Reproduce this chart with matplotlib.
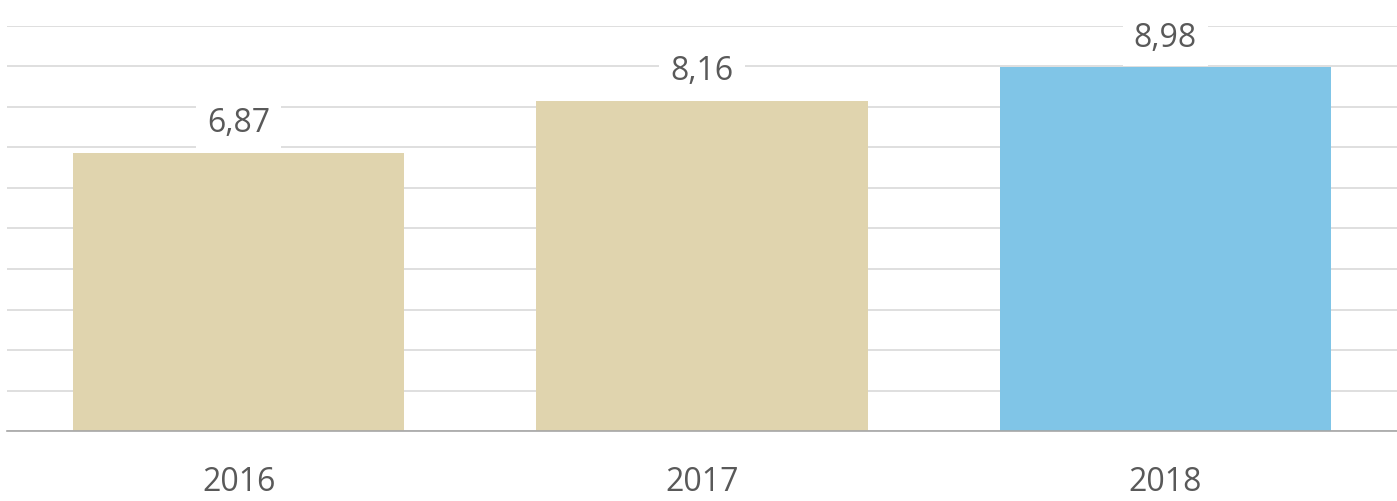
import matplotlib
matplotlib.use("Agg")
import matplotlib.pyplot as plt

years = ["2016", "2017", "2018"]
values = [6.87, 8.16, 8.98]
labels = ["6,87", "8,16", "8,98"]
colors = ["#e0d4ae", "#e0d4ae", "#80c5e7"]

plt.rcParams['font.family'] = ['Open Sans', 'DejaVu Sans']

fig = plt.figure(figsize=(13.97, 5.01), dpi=100)
ax = fig.add_axes([7 / 1397, 1 - 431 / 501, 1 - 7 / 1397, 405 / 501])

x = range(len(years))
ax.bar(x, values, width=0.715, color=colors, zorder=2)

for i, (v, lab) in enumerate(zip(values, labels)):
    ax.annotate(lab, (i, v), xytext=(0, 21), textcoords="offset points",
                ha="center", va="center", fontsize=23, color="#595959",
                bbox=dict(boxstyle="square,pad=0.35", fc="white", ec="none"),
                zorder=4)

ax.set_xlim(-0.5, 2.5)
ax.set_ylim(0, 10)
ax.set_yticks(range(0, 11))
ax.yaxis.grid(True, color="#d9d9d9", linewidth=1.2, zorder=0)
ax.set_axisbelow(True)
ax.tick_params(axis="y", left=False, labelleft=False)
ax.set_xticks(list(x))
ax.set_xticklabels(years, fontsize=23, color="#595959")
ax.tick_params(axis="x", length=0, pad=25)
for s in ["top", "right", "left"]:
    ax.spines[s].set_visible(False)
ax.spines["bottom"].set_color("#a6a6a6")
ax.spines["bottom"].set_linewidth(1.2)

fig.savefig("out.png", dpi=100)
plt.close()
